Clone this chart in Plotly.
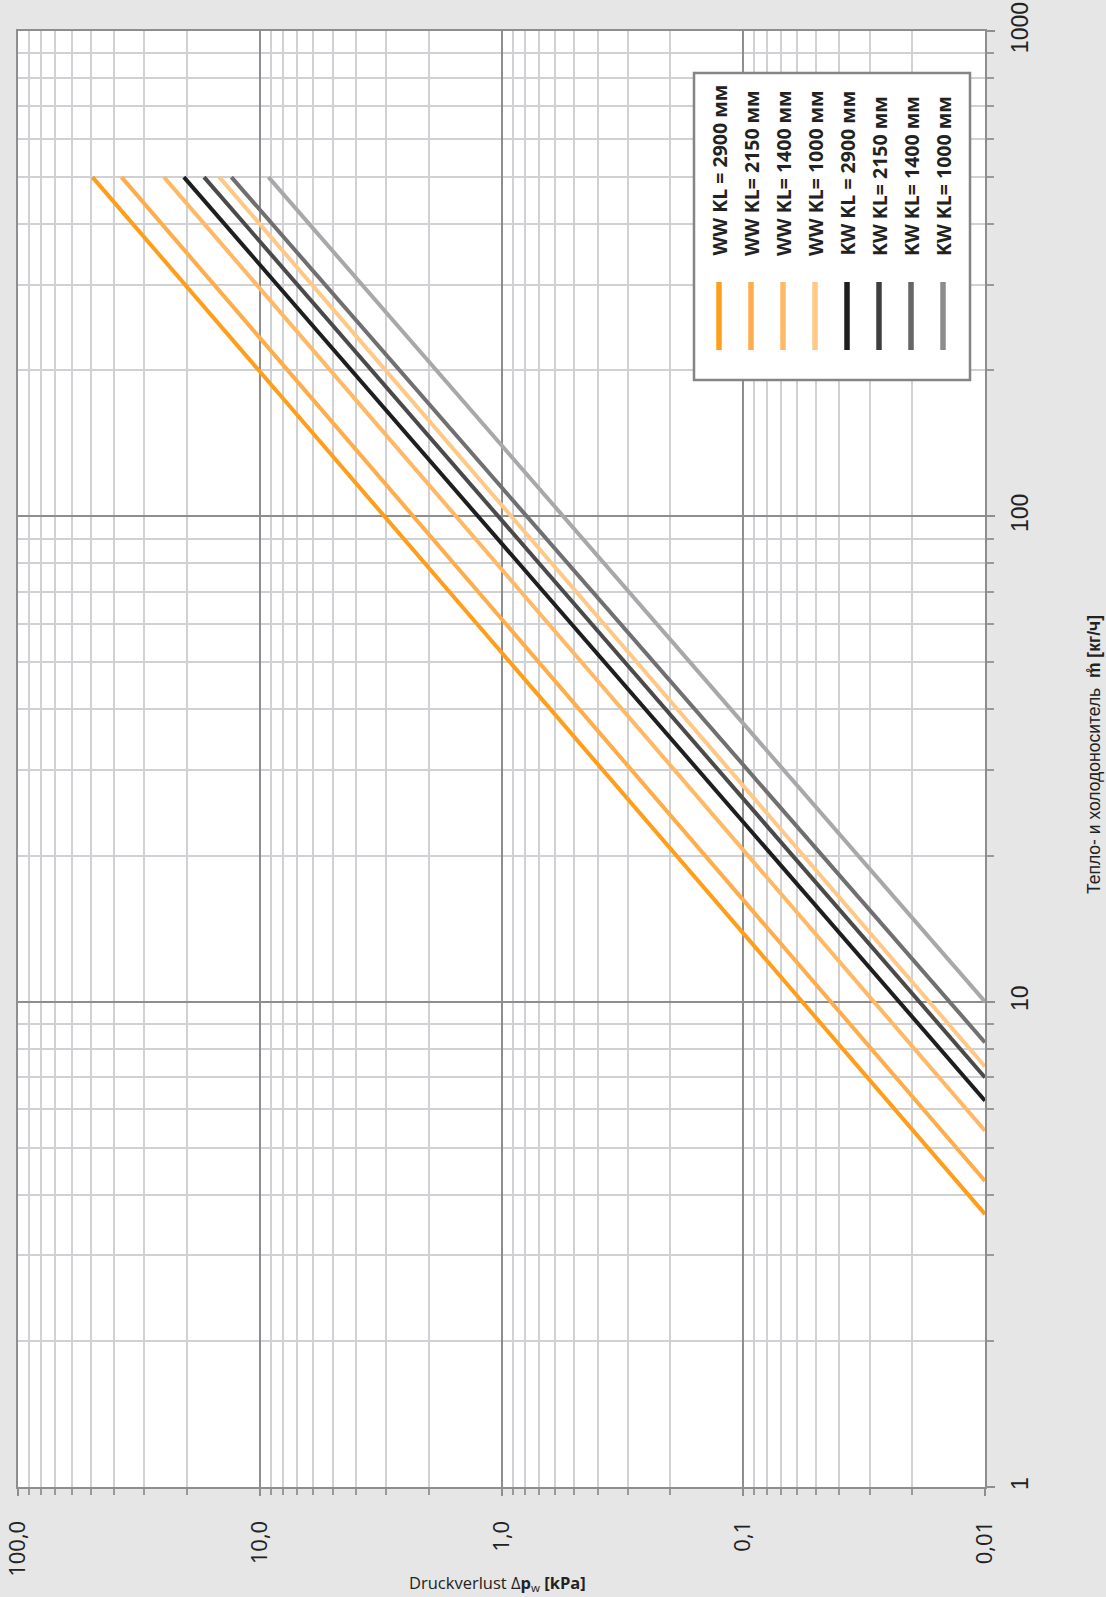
import plotly.graph_objects as go

# ---- data ----
series_names = ["WW KL = 2900 мм", "WW KL= 2150 мм", "WW KL= 1400 мм", "WW KL= 1000 мм",
                "KW KL = 2900 мм", "KW KL= 2150 мм", "KW KL= 1400 мм", "KW KL= 1000 мм"]
series_colors = ["#FF9E1B", "#FFAD4A", "#FFB965", "#FFC886",
                 "#1E1E1E", "#4A4A4A", "#707070", "#A8A8A8"]
legend_colors = ["#FF9E1B", "#FFAD4A", "#FFB965", "#FFC886",
                 "#1E1E1E", "#3F3F3F", "#666666", "#8C8C8C"]
m_top = 500.0                       # kg/h, upper end of every curve
dp_at_top = [49.2, 37.3, 24.9, 14.7, 20.6, 17.0, 13.1, 9.2]      # kPa at m = 500
dp_bottom = 0.01                    # kPa, lower end of every curve
m_at_bottom = [3.65, 4.27, 5.42, 7.35, 6.25, 6.98, 8.24, 10.0]   # kg/h at dp = 0.01

x_tickvals = [100, 10, 1, 0.1, 0.01]
x_ticktext = ["100,0", "10,0", "1,0", "0,1", "0,01"]
y_tickvals = [1, 10, 100, 1000]
y_ticktext = ["1", "10", "100", "1000"]

x_minor = [k * 10 ** e for e in (-2, -1, 0, 1) for k in range(2, 10)]
y_minor = [k * 10 ** e for e in (0, 1, 2) for k in range(2, 10)]

W, H = 1106, 1597
L, R, T, B = 18, 121, 31, 110
PW, PH = W - L - R, H - T - B


def px(x):
    return (x - L) / PW


def py(y):
    return (H - B - y) / PH


fig = go.Figure()
for name, col, d0, m1 in zip(series_names, series_colors, dp_at_top, m_at_bottom):
    fig.add_trace(go.Scatter(x=[d0, dp_bottom], y=[m_top, m1], mode="lines",
                             line=dict(color=col, width=4), name=name,
                             showlegend=False, hoverinfo="skip"))

grid_major = "#8e8e8e"
grid_minor = "#cfd1d5"

fig.update_xaxes(type="log", range=[2, -2], tickmode="array", tickvals=x_tickvals,
                 ticktext=x_ticktext, tickangle=-90, ticks="outside", ticklen=7,
                 tickwidth=2, tickcolor=grid_major, showgrid=True, gridcolor=grid_major,
                 gridwidth=2, showline=True, linecolor=grid_major, linewidth=2, mirror=True,
                 zeroline=False, automargin=False, ticklabelstandoff=16,
                 tickfont=dict(family="Open Sans", size=22, color="#222222"),
                 minor=dict(tickmode="array", tickvals=x_minor, ticks="outside", ticklen=6,
                            tickwidth=1.5, tickcolor="#9a9a9a", showgrid=True,
                            gridcolor=grid_minor, gridwidth=1.6))
fig.update_yaxes(type="log", range=[0, 3], side="right", tickmode="array",
                 tickvals=y_tickvals, ticktext=y_ticktext, tickangle=-90, ticks="outside",
                 ticklen=8, tickwidth=2, tickcolor=grid_major, showgrid=True,
                 gridcolor=grid_major, gridwidth=2, showline=True, linecolor=grid_major,
                 linewidth=2, mirror=True, zeroline=False, automargin=False,
                 ticklabelstandoff=5,
                 tickfont=dict(family="Liberation Sans", size=23, color="#222222"),
                 minor=dict(tickmode="array", tickvals=y_minor, ticks="outside", ticklen=7,
                            tickwidth=1.5, tickcolor="#9a9a9a", showgrid=True,
                            gridcolor=grid_minor, gridwidth=1.6))

shapes = [dict(type="rect", xref="paper", yref="paper", x0=px(694), x1=px(970),
               y0=py(380), y1=py(73), fillcolor="white",
               line=dict(color="#858585", width=2.5), layer="above")]
annotations = []
col_x = [719 + 32 * i for i in range(8)]
for cx, name, col in zip(col_x, series_names, legend_colors):
    shapes.append(dict(type="line", xref="paper", yref="paper", x0=px(cx), x1=px(cx),
                       y0=py(350), y1=py(282), line=dict(color=col, width=5.5),
                       layer="above"))
    annotations.append(dict(xref="paper", yref="paper", x=px(cx), y=py(258),
                            xanchor="center", yanchor="bottom", text="<b>%s</b>" % name,
                            textangle=-90, showarrow=False,
                            font=dict(family="Open Sans", size=19.5, color="#222222")))

annotations.append(dict(xref="paper", yref="paper", x=px(497), y=py(1583),
                        xanchor="center", yanchor="middle", showarrow=False,
                        text="Druckverlust Δ<b>p</b><sub>w</sub> <b>[kPa]</b>",
                        font=dict(family="Open Sans", size=16.5, color="#222222")))
annotations.append(dict(xref="paper", yref="paper", x=px(1094), y=py(755),
                        xanchor="center", yanchor="middle", showarrow=False,
                        textangle=-90,
                        text="Тепло- и холодоноситель  <b>m\u030A [кг/ч]</b>",
                        font=dict(family="Liberation Sans", size=17.5, color="#222222")))

fig.update_layout(width=W, height=H, autosize=False,
                  margin=dict(l=L, r=R, t=T, b=B, pad=0, autoexpand=False),
                  paper_bgcolor="#e6e6e6", plot_bgcolor="white",
                  shapes=shapes, annotations=annotations, showlegend=False)

fig.write_html("out.html", config={"displayModeBar": False},
               post_script="document.body.style.margin='0';")
